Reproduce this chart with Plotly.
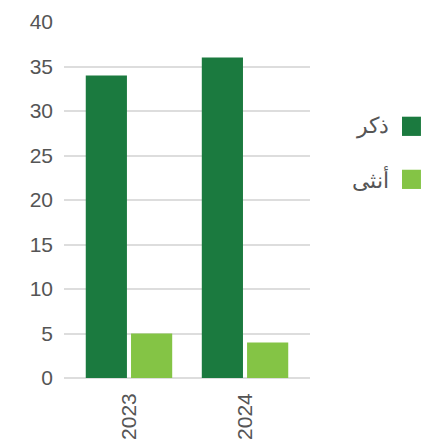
import plotly.graph_objects as go

years = ["2023", "2024"]
series_names = ["ذكر", "أنثى"]
male = [34, 36]
female = [5, 4]
colors = ["#1b7a3f", "#84c445"]

fig = go.Figure()
for name, vals, col in zip(series_names, [male, female], colors):
    fig.add_trace(go.Bar(x=years, y=vals, name=name, marker_color=col,
                         marker_line_width=0, showlegend=False))

# right-to-left legend: text on the left of the swatch
legend_y = [0.707, 0.558]
for name, col, ly in zip(series_names, colors, legend_y):
    fig.add_shape(type="rect", xref="paper", yref="paper",
                  x0=1.374, x1=1.451, y0=ly - 0.027, y1=ly + 0.027,
                  fillcolor=col, line_width=0)
    fig.add_annotation(text=name, xref="paper", yref="paper", x=1.33, y=ly,
                       xanchor="right", yanchor="middle", showarrow=False,
                       font=dict(size=22, color="#555555"))

fig.update_layout(
    width=438, height=444,
    margin=dict(l=56, r=136, t=14, b=74),
    barmode="group", bargap=0.22, bargroupgap=0.09,
    plot_bgcolor="white", paper_bgcolor="white",
    font=dict(family="Liberation Sans, Arial, sans-serif", size=21, color="#555555"),
    xaxis=dict(tickangle=-90, range=[-0.56, 1.56], showgrid=False, automargin=False,
               showline=False, ticks="", ticklabelstandoff=10),
    yaxis=dict(range=[0, 40], dtick=5, gridcolor="#dddddd", gridwidth=1.5,
               zeroline=True, zerolinecolor="#dddddd", zerolinewidth=1.5,
               automargin=False, showline=False, ticklabelstandoff=10),
)

fig.write_html("out.html")
